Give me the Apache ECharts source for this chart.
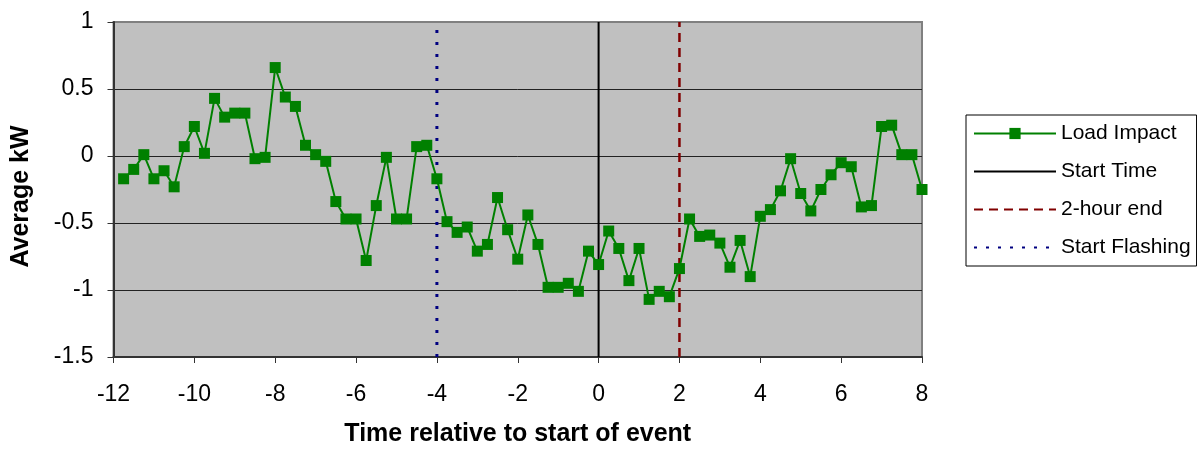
<!DOCTYPE html>
<html>
<head>
<meta charset="utf-8">
<script src="https://cdn.jsdelivr.net/npm/echarts@6/dist/echarts.min.js"></script>
<style>html,body{margin:0;padding:0;background:#fff}#c{width:1197px;height:454px}</style>
</head>
<body>
<div id="c"></div>
<script>
// Time relative to start of event (hours), 15-minute steps
const times = [-11.75,-11.5,-11.25,-11,-10.75,-10.5,-10.25,-10,-9.75,-9.5,-9.25,-9,-8.75,-8.5,-8.25,-8,
  -7.75,-7.5,-7.25,-7,-6.75,-6.5,-6.25,-6,-5.75,-5.5,-5.25,-5,-4.75,-4.5,-4.25,-4,
  -3.75,-3.5,-3.25,-3,-2.75,-2.5,-2.25,-2,-1.75,-1.5,-1.25,-1,-0.75,-0.5,-0.25,0,
  0.25,0.5,0.75,1,1.25,1.5,1.75,2,2.25,2.5,2.75,3,3.25,3.5,3.75,4,
  4.25,4.5,4.75,5,5.25,5.5,5.75,6,6.25,6.5,6.75,7,7.25,7.5,7.75,8];
const loadImpact = [-0.17,-0.10,0.01,-0.17,-0.11,-0.23,0.07,0.22,0.02,0.43,0.29,0.32,0.32,-0.02,-0.01,0.66,
  0.44,0.37,0.08,0.01,-0.04,-0.34,-0.47,-0.47,-0.78,-0.37,-0.01,-0.47,-0.47,0.07,0.08,-0.17,
  -0.49,-0.57,-0.53,-0.71,-0.66,-0.31,-0.55,-0.77,-0.44,-0.66,-0.98,-0.98,-0.95,-1.01,-0.71,-0.81,
  -0.56,-0.69,-0.93,-0.69,-1.07,-1.01,-1.05,-0.84,-0.47,-0.60,-0.59,-0.65,-0.83,-0.63,-0.90,-0.45,
  -0.40,-0.26,-0.02,-0.28,-0.41,-0.25,-0.14,-0.05,-0.08,-0.38,-0.37,0.22,0.23,0.01,0.01,-0.25];
const startTime = 0;
const twoHourEnd = 2;
const startFlashing = -4;
const yRange = [-1.5, 1];
const xRange = [-12, 8];
const seriesNames = ['Load Impact', 'Start Time', '2-hour end', 'Start Flashing'];

const font = '"Liberation Sans", Arial, sans-serif';
const chart = echarts.init(document.getElementById('c'), null, {renderer: 'canvas'});
const vline = x => [[x, yRange[0]], [x, yRange[1]]];

chart.setOption({
  animation: false,
  backgroundColor: '#ffffff',
  textStyle: {fontFamily: font},
  grid: {left: 113.5, right: 275, top: 22, bottom: 97, show: true,
    backgroundColor: '#C0C0C0', borderColor: '#808080', borderWidth: 2},
  legend: {
    orient: 'vertical', left: 966, top: 115,
    backgroundColor: '#ffffff', borderColor: '#000000', borderWidth: 1,
    padding: [8, 6, 8, 7],
    itemWidth: 82, itemHeight: 14, itemGap: 17,
    textStyle: {fontFamily: font, fontSize: 21, color: '#000', padding: [0,0,0,0]},
    data: [
      {name: seriesNames[0]},
      {name: seriesNames[1], itemStyle: {opacity: 0}},
      {name: seriesNames[2], itemStyle: {opacity: 0}},
      {name: seriesNames[3], itemStyle: {opacity: 0}}
    ]
  },
  xAxis: {
    type: 'value', min: xRange[0], max: xRange[1], interval: 2,
    name: 'Time relative to start of event', nameLocation: 'middle', nameGap: 65,
    nameTextStyle: {fontFamily: font, fontSize: 25, fontWeight: 'bold', color: '#000'},
    axisLine: {show: true, onZero: false, lineStyle: {color: '#333', width: 2}},
    axisTick: {show: true, inside: false, length: 6, lineStyle: {color: '#333', width: 1}},
    axisLabel: {fontFamily: font, fontSize: 23, color: '#000', margin: 26},
    splitLine: {show: false}
  },
  yAxis: {
    type: 'value', min: yRange[0], max: yRange[1], interval: 0.5,
    name: 'Average kW', nameLocation: 'middle', nameGap: 80, nameRotate: 90,
    nameTextStyle: {fontFamily: font, fontSize: 25, fontWeight: 'bold', color: '#000', padding: [0, 14, 0, 0]},
    axisLine: {show: true, onZero: false, lineStyle: {color: '#333', width: 2}},
    axisTick: {show: true, inside: false, length: 6, lineStyle: {color: '#333', width: 1}},
    axisLabel: {fontFamily: font, fontSize: 23, color: '#000', margin: 20},
    splitLine: {show: true, lineStyle: {color: ['#333','#222','#222','#222','#222','#808080'], width: 1}}
  },
  series: [
    {name: seriesNames[0], type: 'line', data: times.map((t, i) => [t, loadImpact[i]]),
      symbol: 'rect', symbolSize: 11, z: 5,
      lineStyle: {color: '#008000', width: 2}, itemStyle: {color: '#008000'}},
    {name: seriesNames[1], type: 'line', data: vline(startTime), symbol: 'none', z: 3,
      lineStyle: {color: '#000000', width: 2, type: 'solid'}, itemStyle: {color: '#000000'}},
    {name: seriesNames[2], type: 'line', data: vline(twoHourEnd), symbol: 'none', z: 3,
      lineStyle: {color: '#800000', width: 2.5, type: [9, 6]}, itemStyle: {color: '#800000'}},
    {name: seriesNames[3], type: 'line', data: vline(startFlashing), symbol: 'none', z: 3,
      lineStyle: {color: '#000080', width: 3, type: [3, 9]}, itemStyle: {color: '#000080'}}
  ]
});
</script>
</body>
</html>
